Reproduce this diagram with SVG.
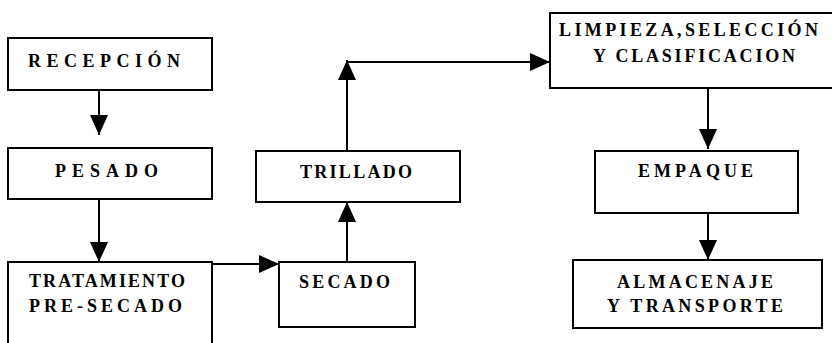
<svg xmlns="http://www.w3.org/2000/svg" width="832" height="343" viewBox="0 0 832 343">
<style>
.box{fill:#fff;stroke:#000;stroke-width:2}
.t{font-family:"Liberation Serif","Times New Roman",serif;font-weight:bold;font-size:18px;fill:#000}
.c{fill:none;stroke:#000;stroke-width:2}
</style>
<defs>
<marker id="ah" viewBox="0 0 20 18" refX="20" refY="9" markerWidth="20" markerHeight="18" markerUnits="userSpaceOnUse" orient="auto">
<path d="M0,0 L20,9 L0,18 Z" fill="#000"/>
</marker>
</defs>
<rect width="832" height="343" fill="#fff"/>
<g id="connectors">
<line class="c" x1="99" y1="90" x2="99" y2="135" marker-end="url(#ah)"/>
<line class="c" x1="99" y1="199" x2="99" y2="262" marker-end="url(#ah)"/>
<line class="c" x1="212" y1="264" x2="279" y2="264" marker-end="url(#ah)"/>
<line class="c" x1="347" y1="262" x2="347" y2="202" marker-end="url(#ah)"/>
<line class="c" x1="347" y1="151" x2="347" y2="60" marker-end="url(#ah)"/>
<line class="c" x1="347" y1="62" x2="550" y2="62" marker-end="url(#ah)"/>
<line class="c" x1="708" y1="88" x2="708" y2="149" marker-end="url(#ah)"/>
<line class="c" x1="708" y1="213" x2="708" y2="260" marker-end="url(#ah)"/>
</g>
<g id="recepcion">
<rect class="box" x="8" y="38" width="204" height="52"/>
<text class="t" x="28" y="67" textLength="152" lengthAdjust="spacing">RECEPCIÓN</text>
</g>
<g id="pesado">
<rect class="box" x="8" y="148" width="204" height="51"/>
<text class="t" x="55" y="177" textLength="103" lengthAdjust="spacing">PESADO</text>
</g>
<g id="tratamiento">
<rect class="box" x="8" y="262" width="204" height="90"/>
<text class="t" x="29" y="287" textLength="156" lengthAdjust="spacing">TRATAMIENTO</text>
<text class="t" x="29" y="312" textLength="153" lengthAdjust="spacing">PRE-SECADO</text>
</g>
<g id="secado">
<rect class="box" x="279" y="262" width="136" height="65"/>
<text class="t" x="299" y="288" textLength="91" lengthAdjust="spacing">SECADO</text>
</g>
<g id="trillado">
<rect class="box" x="256" y="151" width="204" height="51"/>
<text class="t" x="300" y="178" textLength="112" lengthAdjust="spacing">TRILLADO</text>
</g>
<g id="limpieza">
<rect class="box" x="550" y="13" width="290" height="75"/>
<text class="t" x="559" y="36" textLength="259" lengthAdjust="spacing">LIMPIEZA,SELECCIÓN</text>
<text class="t" x="593" y="62" textLength="202" lengthAdjust="spacing">Y CLASIFICACION</text>
</g>
<g id="empaque">
<rect class="box" x="595" y="151" width="203" height="62"/>
<text class="t" x="638" y="177" textLength="115" lengthAdjust="spacing">EMPAQUE</text>
</g>
<g id="almacenaje">
<rect class="box" x="573" y="260" width="249" height="68"/>
<text class="t" x="617" y="288" textLength="156" lengthAdjust="spacing">ALMACENAJE</text>
<text class="t" x="607" y="312" textLength="176" lengthAdjust="spacing">Y TRANSPORTE</text>
</g>
</svg>
